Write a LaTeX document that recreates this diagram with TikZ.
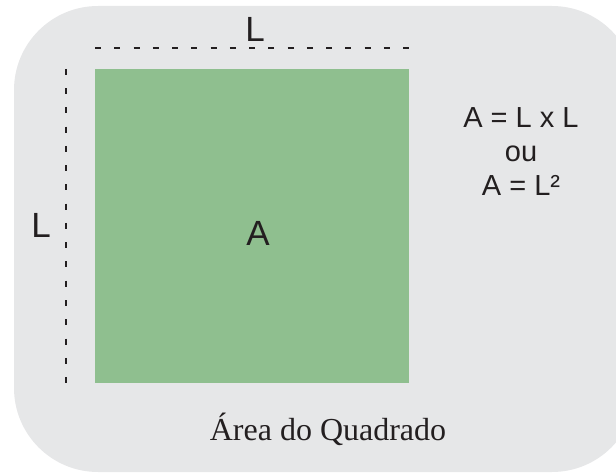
\documentclass[tikz,border=0pt]{standalone}
\usepackage{fontspec}
\setmainfont{Liberation Serif}
\newfontfamily\arialfont{Liberation Sans}
\definecolor{panelgray}{RGB}{230,231,232}
\definecolor{squaregreen}{RGB}{143,191,143}
\definecolor{inkblack}{RGB}{35,31,32}

\begin{document}
\begin{tikzpicture}[x=1pt, y=-1pt,
  lbl/.style={inner sep=0pt, anchor=base, text=inkblack},
  dim/.style={inkblack, line width=2.7pt, dash pattern=on 6pt off 13.25pt}]
\useasboundingbox (0,0) rectangle (616,473);

\coordinate (P1) at (14,6);
\coordinate (P2) at (636,472);   % runs past the right edge
\coordinate (S1) at (95,69);     % square, top left
\coordinate (S2) at (409,383);   % square, bottom right
\coordinate (T1) at (95,48);
\coordinate (T2) at (409,48);
\coordinate (V1) at (66,69);
\coordinate (V2) at (66,383);

\fill[panelgray, rounded corners=84pt] (P1) rectangle (P2);
\fill[squaregreen] (S1) rectangle (S2);

\draw[dim] (T1) -- (T2);
\draw[dim] (V1) -- (V2);

\node[lbl, font=\arialfont\fontsize{35}{42}\selectfont] (Ltop) at (255,42) {L};
\node[lbl, font=\arialfont\fontsize{35}{42}\selectfont] (Lleft) at (41,238) {L};
\node[lbl, font=\arialfont\fontsize{35}{42}\selectfont] (Asq) at (258,246) {A};

\node[lbl, font=\arialfont\fontsize{29}{34}\selectfont] (F1) at (521,128) {A = L x L};
\node[lbl, font=\arialfont\fontsize{29}{34}\selectfont] (F2) at (521,162) {ou};
\node[lbl, font=\arialfont\fontsize{29}{34}\selectfont] (F3) at (521,196) {A = L²};

\node[lbl, font=\fontsize{32}{38}\selectfont] (title) at (328,440) {Área do Quadrado};
\end{tikzpicture}
\end{document}
